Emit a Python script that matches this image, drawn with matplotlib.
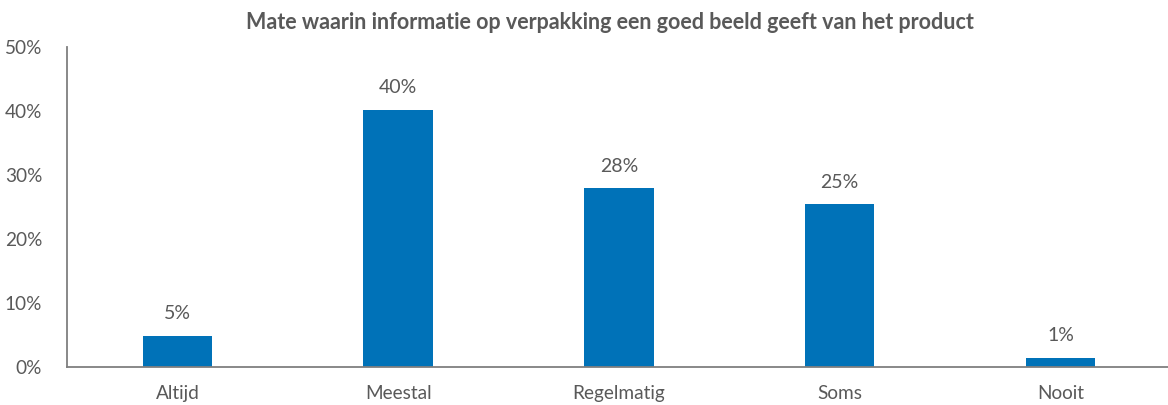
import matplotlib.pyplot as plt
from matplotlib.ticker import PercentFormatter

categories = ["Altijd", "Meestal", "Regelmatig", "Soms", "Nooit"]
values = [4.9, 40.2, 27.9, 25.4, 1.4]
labels = ["5%", "40%", "28%", "25%", "1%"]
title = "Mate waarin informatie op verpakking een goed beeld geeft van het product"

bar_color = "#0072B8"
text_color = "#595959"
plt.rcParams["font.family"] = ["Lato", "DejaVu Sans"]

fig = plt.figure(figsize=(11.68, 4.05), dpi=100)
ax = fig.add_axes([0.0574, 0.0938, 0.945, 0.790])

x = range(len(categories))
bars = ax.bar(x, values, width=0.315, color=bar_color, zorder=2)

# value labels above each bar
for bar, lab in zip(bars, labels):
    ax.annotate(lab, (bar.get_x() + bar.get_width() / 2, bar.get_height()),
                xytext=(0, 10), textcoords="offset points",
                ha="center", va="bottom", fontsize=14, color=text_color)

ax.set_xlim(-0.5, 4.5)
ax.set_ylim(0, 50)
ax.set_yticks(range(0, 51, 10))
ax.yaxis.set_major_formatter(PercentFormatter(decimals=0))
ax.set_xticks(list(x))
ax.set_xticklabels(categories)
ax.tick_params(axis="both", length=0, labelsize=13.7, labelcolor=text_color)
ax.tick_params(axis="y", pad=18)
ax.tick_params(axis="x", pad=13)

for side in ["top", "right"]:
    ax.spines[side].set_visible(False)
for side in ["left", "bottom"]:
    ax.spines[side].set_color("#7f7f7f")
    ax.spines[side].set_linewidth(1.3)

fig.text(0.522, 0.945, title, ha="center", va="center", fontsize=15.5,
         fontweight="bold", color=text_color)

fig.savefig("out.png", dpi=100)
